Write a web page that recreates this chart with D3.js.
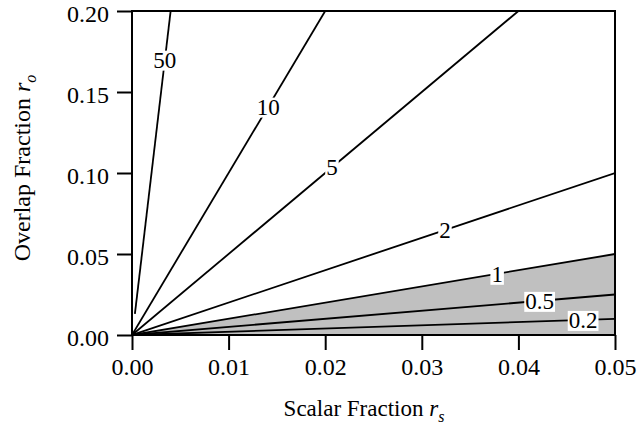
<!DOCTYPE html>
<html>
<head>
<meta charset="utf-8">
<script src="https://cdn.jsdelivr.net/npm/d3@7"></script>
<style>
    body { margin: 0; background: #fff; }
    svg text { font-family: "Liberation Serif", "Times New Roman", Times, serif !important; fill: #000; }
</style>
</head>
<body>
<svg id="chart" width="637" height="429"></svg>
<script>
// contour levels r_o / r_s
var levels = [50, 10, 5, 2, 1, 0.5, 0.2];
var levelNames = ['50', '10', '5', '2', '1', '0.5', '0.2'];
// where each contour starts (the 50 contour stops short of the origin)
var startX = [0.0003, 0, 0, 0, 0, 0, 0];
var startY = [0.013, 0, 0, 0, 0, 0, 0];
// x position of each inline label
var labelX = [0.0034, 0.0141, 0.0207, 0.0324, 0.0378, 0.0422, 0.0467];
// shaded band lies under this level
var shadeLevel = 1;
var xTicks = [0, 0.01, 0.02, 0.03, 0.04, 0.05];
var yTicks = [0, 0.05, 0.10, 0.15, 0.20];

var margin = {top: 11, right: 22, bottom: 94, left: 132};
var width = 637 - margin.left - margin.right;
var height = 429 - margin.top - margin.bottom;

var svg = d3.select('#chart');
var g = svg.append('g').attr('transform', 'translate(' + margin.left + ',' + margin.top + ')');

var x = d3.scaleLinear().domain([0, 0.05]).range([0, width]);
var y = d3.scaleLinear().domain([0, 0.20]).range([height, 0]);

svg.append('defs').append('clipPath').attr('id', 'plot-clip')
    .append('rect').attr('width', width).attr('height', height);

var plot = g.append('g').attr('clip-path', 'url(#plot-clip)');

//Shaded region below the ratio-1 line
var shade = d3.area()
    .x(function (d) { return x(d); })
    .y0(y(0))
    .y1(function (d) { return y(d * shadeLevel); });
plot.append('path')
    .datum(x.domain())
    .attr('d', shade)
    .attr('fill', '#c0c0c0');

//Contour lines
var line = d3.line().x(function (d) { return x(d[0]); }).y(function (d) { return y(d[1]); });
levels.forEach(function (k, i) {
    var xEnd = Math.min(x.domain()[1], y.domain()[1] / k);
    plot.append('path')
        .datum([[startX[i], startY[i]], [xEnd, xEnd * k]])
        .attr('d', line)
        .attr('fill', 'none')
        .attr('stroke', '#000')
        .attr('stroke-width', 1.8);
});

//Inline labels with white boxes
levels.forEach(function (k, i) {
    var lx = x(labelX[i]);
    var ly = y(labelX[i] * k);
    var lg = plot.append('g');
    var rect = lg.append('rect').attr('fill', '#fff');
    var t = lg.append('text')
        .attr('x', lx).attr('y', ly)
        .attr('dy', '0.35em')
        .attr('text-anchor', 'middle')
        .style('font-size', '23px')
        .text(levelNames[i]);
    var bb = t.node().getBBox();
    rect.attr('x', bb.x - 1).attr('y', bb.y + 3)
        .attr('width', bb.width + 2).attr('height', bb.height - 5);
});

//Axes
var xAxis = g.append('g')
    .attr('transform', 'translate(0,' + height + ')')
    .call(d3.axisBottom(x).tickValues(xTicks).tickFormat(d3.format('.2f')).tickSize(15).tickPadding(8));
var yAxis = g.append('g')
    .call(d3.axisLeft(y).tickValues(yTicks).tickFormat(d3.format('.2f')).tickSize(15).tickPadding(8));
[xAxis, yAxis].forEach(function (a) {
    a.attr('font-family', '"Liberation Serif", serif').attr('font-size', 24);
    a.select('.domain').remove();
    a.selectAll('.tick line').attr('stroke', '#000').attr('stroke-width', 2);
});
yAxis.selectAll('.tick text').attr('dy', '0.44em');

//Frame
g.append('rect')
    .attr('width', width).attr('height', height)
    .attr('fill', 'none').attr('stroke', '#000').attr('stroke-width', 2);

//Axis titles
var xt = svg.append('text')
    .attr('x', 364).attr('y', 416)
    .attr('text-anchor', 'middle')
    .style('font-size', '23px');
xt.append('tspan').text('Scalar Fraction ');
xt.append('tspan').style('font-style', 'italic').text('r');
xt.append('tspan').style('font-style', 'italic').style('font-size', '16px').attr('dy', 6).text('s');

var yt = svg.append('text')
    .attr('transform', 'translate(30,168) rotate(-90)')
    .attr('text-anchor', 'middle')
    .style('font-size', '24px');
yt.append('tspan').text('Overlap Fraction ');
yt.append('tspan').style('font-style', 'italic').text('r');
yt.append('tspan').style('font-style', 'italic').style('font-size', '16px').attr('dy', 6).text('o');
</script>
</body>
</html>
